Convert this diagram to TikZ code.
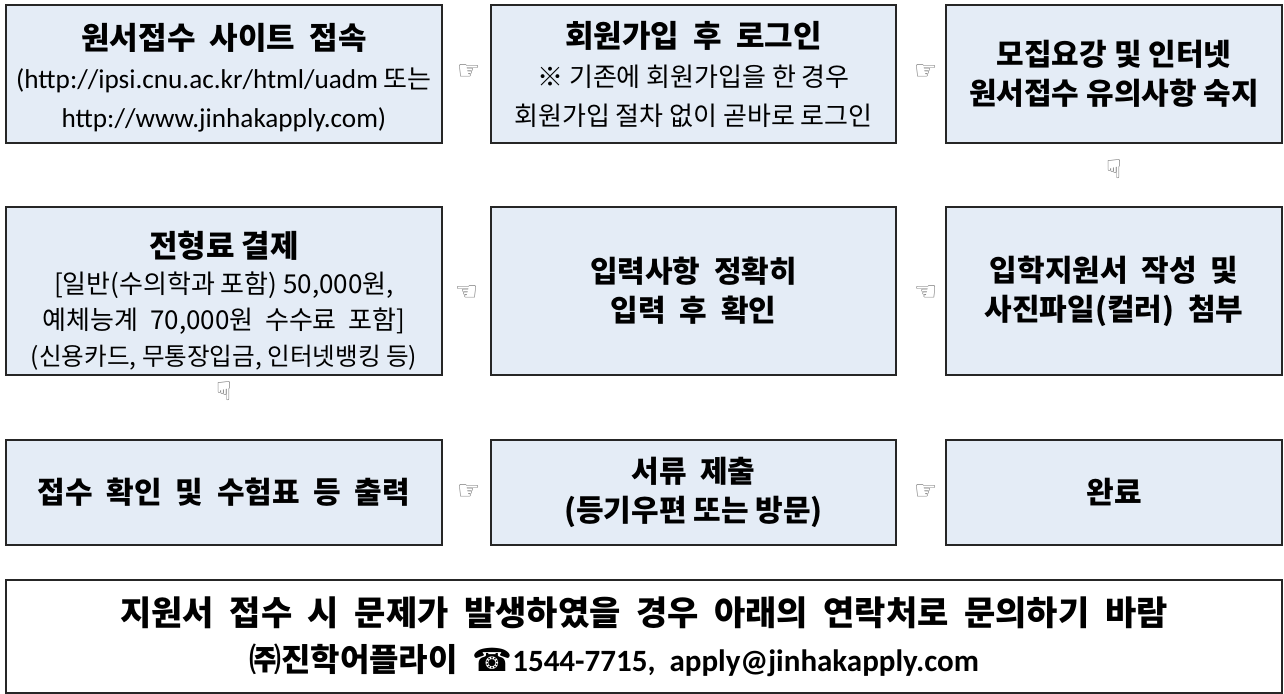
\documentclass[tikz,border=0pt]{standalone}
\usepackage{fontspec}
\setmainfont{Noto Sans CJK KR}
\newfontfamily\handfont{DejaVu Sans}
\newfontfamily\latfont{Carlito}
\usetikzlibrary{positioning,calc}
\definecolor{boxfill}{RGB}{228,236,246}
\definecolor{handgray}{RGB}{105,105,105}

\tikzset{
  stepbox/.style={draw=black!85, line width=0.8pt, fill=boxfill, inner sep=0pt, align=center,
    font=\fontsize{13}{19.5}\selectfont},
  hand/.style={font=\handfont\fontsize{13}{13}\selectfont, text=handgray, inner sep=0pt},
  big/.style={font=\fontsize{15}{19.5}\selectfont\bfseries}
}
\newcommand\steptitle[1]{{\fontsize{15.5}{19}\selectfont\bfseries #1}}

\begin{document}
\begin{tikzpicture}[x=0.5pt,y=-0.5pt]
    \useasboundingbox (0,0) rectangle (1284,694);
    % first row
    \node[stepbox, minimum width=218pt, minimum height=69pt] (site) at (224,74)
        {\rule{0pt}{17pt}\steptitle{원서접수\ \ 사이트\ \ 접속}\\{\latfont\fontsize{13.6}{19}\selectfont (http://ipsi.cnu.ac.kr/html/uadm} 또는\\{\latfont\fontsize{13.6}{19}\selectfont http://www.jinhakapply.com)}};
    \node[stepbox, minimum width=202.5pt, minimum height=69pt] (login) at (693.5,74)
        {\steptitle{회원가입\ \ 후\ \ 로그인}\\※ 기존에 회원가입을 한 경우\\회원가입 절차 없이 곧바로 로그인};
    \node[stepbox, big, minimum width=168pt, minimum height=69pt] (guide) at (1114,74)
        {모집요강 및 인터넷\\원서접수 유의사항 숙지};
    % second row
    \node[stepbox, minimum width=218pt, minimum height=84pt, font=\fontsize{13}{18}\selectfont] (fee) at (224,291)
        {\rule{0pt}{23pt}\steptitle{전형료 결제}\\{[}일반(수의학과 포함) 50,000원,\\예체능계\ \ 70,000원\ \ 수수료\ \ 포함{]}\\{\fontsize{12.3}{18}\selectfont (신용카드, 무통장입금, 인터넷뱅킹 등)}};
    \node[stepbox, big, minimum width=202.5pt, minimum height=84pt] (input) at (693.5,291)
        {입력사항\ \ 정확히\\입력\ \ 후\ \ 확인};
    \node[stepbox, big, minimum width=168pt, minimum height=84pt] (form) at (1114,291)
        {입학지원서\ \ 작성\ \ 및\\사진파일(컬러)\ \ 첨부};
    % third row
    \node[stepbox, big, minimum width=218pt, minimum height=52.5pt] (print) at (224,492.5)
        {접수\ \ 확인\ \ 및\ \ 수험표\ \ 등\ \ 출력};
    \node[stepbox, big, minimum width=202.5pt, minimum height=52.5pt] (send) at (693.5,492.5)
        {서류\ \ 제출\\(등기우편 또는 방문)};
    \node[stepbox, big, minimum width=168pt, minimum height=52.5pt] (done) at (1114,492.5)
        {완료};
    % contact box
    \node[draw=black!85, line width=0.8pt, inner sep=0pt, align=center, minimum width=638pt, minimum height=56.5pt,
        font=\fontsize{17}{23}\selectfont\bfseries] (contact) at (644,636.5)
        {지원서\ \ 접수\ \ 시\ \ 문제가\ \ 발생하였을\ \ 경우\ \ 아래의\ \ 연락처로\ \ 문의하기\ \ 바람\\{\fontsize{16}{23}\selectfont ㈜진학어플라이\ \ {\handfont ☎}{\latfont\fontsize{15.5}{23}\selectfont 1544-7715,\ \ apply@jinhakapply.com}\hspace*{30pt}}};
    % hands between the steps
    \node[hand] (h1) at ($(site.east)!0.55!(login.west)+(0,-2)$) {☞};
    \node[hand] (h2) at ($(login.east)!0.6!(guide.west)+(0,-2)$) {☞};
    \node[hand] (h3) at ($(guide.south)!0.4!(form.north)$) {☟};
    \node[hand] (h4) at ($(form.west)!0.4!(input.east)+(0,2)$) {☜};
    \node[hand] (h5) at ($(input.west)!0.5!(fee.east)+(0,2)$) {☜};
    \node[hand] (h6) at ($(fee.south)!0.25!(print.north)$) {☟};
    \node[hand] (h7) at ($(print.east)!0.55!(send.west)$) {☞};
    \node[hand] (h8) at ($(send.east)!0.6!(done.west)$) {☞};
\end{tikzpicture}
\end{document}
